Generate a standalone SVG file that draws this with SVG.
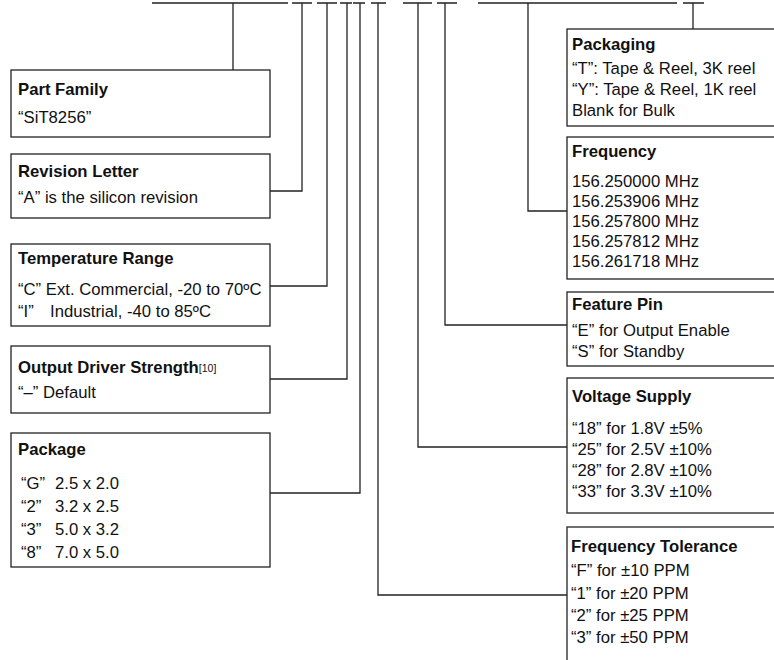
<svg xmlns="http://www.w3.org/2000/svg" width="774" height="660" viewBox="0 0 774 660">
<style>
.box{fill:#fff;stroke:#222;stroke-width:1.3}
.ln{fill:none;stroke:#222;stroke-width:1.3}
text{font-family:"Liberation Sans",Arial,sans-serif;font-size:16.7px;fill:#111}
.t{font-weight:bold}
.sup{font-size:10.5px}
</style>
<rect width="774" height="660" fill="#fff"/>
<g id="connectors">
<path class="ln" d="M152,3H288M233,3V70"/>
<path class="ln" d="M292,3H312M302,3V191H270"/>
<path class="ln" d="M317,3H337M327,3V286H270"/>
<path class="ln" d="M340,3H352M347,3V379H270"/>
<path class="ln" d="M353,3H365M360,3V493H270"/>
<path class="ln" d="M371,3H386M378,3V595H567"/>
<path class="ln" d="M403,3H432M418,3V447H567"/>
<path class="ln" d="M437,3H457M445,3V325H567"/>
<path class="ln" d="M478,3H677M528,3V211H567"/>
<path class="ln" d="M683,3H704M693,3V29"/>
</g>
<g id="part-family">
<rect class="box" x="11" y="70" width="259" height="67"/>
<text class="t" x="18" y="95">Part Family</text>
<text x="18" y="123">“SiT8256”</text>
</g>
<g id="revision-letter">
<rect class="box" x="11" y="154" width="259" height="64"/>
<text class="t" x="18" y="177">Revision Letter</text>
<text x="18" y="203">“A” is the silicon revision</text>
</g>
<g id="temperature-range">
<rect class="box" x="11" y="244" width="259" height="82"/>
<text class="t" x="18" y="264">Temperature Range</text>
<text x="18" y="295">“C” Ext. Commercial, -20 to 70ºC</text>
<text x="18" y="317">“I”</text>
<text x="50" y="317">Industrial, -40 to 85ºC</text>
</g>
<g id="output-driver-strength">
<rect class="box" x="11" y="346" width="259" height="67"/>
<text class="t" x="18" y="373">Output Driver Strength<tspan class="sup" font-weight="normal" dy="-1">[10]</tspan></text>
<text x="18" y="398">“–” Default</text>
</g>
<g id="package">
<rect class="box" x="11" y="433" width="259" height="134"/>
<text class="t" x="18" y="455">Package</text>
<text x="21" y="489">“G”</text><text x="55" y="489">2.5 x 2.0</text>
<text x="21" y="512">“2”</text><text x="55" y="512">3.2 x 2.5</text>
<text x="21" y="535">“3”</text><text x="55" y="535">5.0 x 3.2</text>
<text x="21" y="558">“8”</text><text x="55" y="558">7.0 x 5.0</text>
</g>
<g id="packaging">
<rect class="box" x="567" y="29" width="230" height="97"/>
<text class="t" x="572" y="50">Packaging</text>
<text x="572" y="74">“T”: Tape &amp; Reel, 3K reel</text>
<text x="572" y="95">“Y”: Tape &amp; Reel, 1K reel</text>
<text x="572" y="116">Blank for Bulk</text>
</g>
<g id="frequency">
<rect class="box" x="567" y="137" width="230" height="142"/>
<text class="t" x="572" y="157">Frequency</text>
<text x="572" y="187">156.250000 MHz</text>
<text x="572" y="207">156.253906 MHz</text>
<text x="572" y="227">156.257800 MHz</text>
<text x="572" y="247">156.257812 MHz</text>
<text x="572" y="267">156.261718 MHz</text>
</g>
<g id="feature-pin">
<rect class="box" x="567" y="292" width="230" height="74"/>
<text class="t" x="572" y="310">Feature Pin</text>
<text x="572" y="336">“E” for Output Enable</text>
<text x="572" y="357">“S” for Standby</text>
</g>
<g id="voltage-supply">
<rect class="box" x="567" y="378" width="230" height="135"/>
<text class="t" x="572" y="402">Voltage Supply</text>
<text x="572" y="434">“18” for 1.8V ±5%</text>
<text x="572" y="455">“25” for 2.5V ±10%</text>
<text x="572" y="476">“28” for 2.8V ±10%</text>
<text x="572" y="497">“33” for 3.3V ±10%</text>
</g>
<g id="frequency-tolerance">
<rect class="box" x="567" y="527" width="230" height="150"/>
<text class="t" x="571" y="552">Frequency Tolerance</text>
<text x="571" y="576">“F” for ±10 PPM</text>
<text x="571" y="599">“1” for ±20 PPM</text>
<text x="571" y="621">“2” for ±25 PPM</text>
<text x="571" y="643">“3” for ±50 PPM</text>
</g>
</svg>
